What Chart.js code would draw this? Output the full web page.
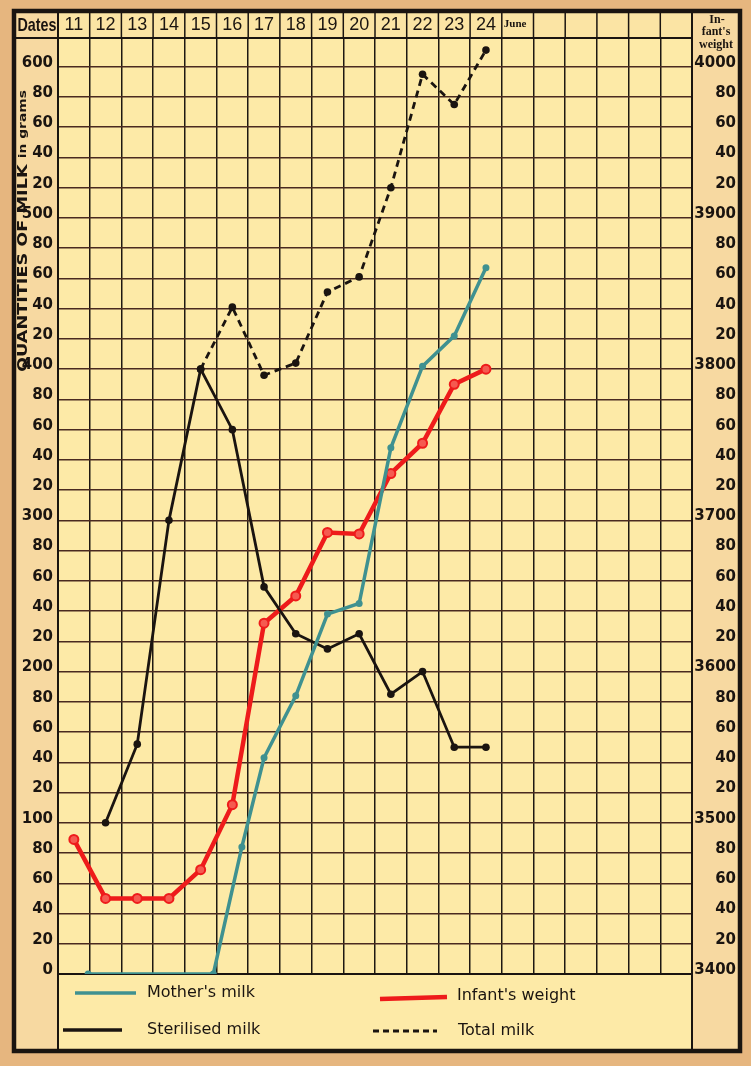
<!DOCTYPE html>
<html><head><meta charset="utf-8">
<script src="https://cdn.jsdelivr.net/npm/chart.js@4/dist/chart.umd.min.js"></script>
<style>html,body{margin:0;padding:0;background:#e6b67f;}canvas{display:block}</style>
</head><body>
<canvas id="c" width="751" height="1066"></canvas>
<script>
// ---- data ----
const dates = [11,12,13,14,15,16,17,18,19,20,21,22,23,24];
const dateLabels = ['11','12','13','14','15','16','17','18','19','20','21','22','23','24'];
const monthLabel = 'June';
const gridDays = [11,12,13,14,15,16,17,18,19,20,21,22,23,24,25,26,27,28,29,30];

const motherDays = [11.45,15.4,16.3,17,18,19,20,21,22,23,24];
const motherMilk = [0,0,84,143,184,238,245,348,402,422,467];
const sterilisedMilk = [null,100,152,300,400,360,256,225,215,225,185,200,150,150];
const totalMilk = [null,null,null,null,400,441,396,404,451,461,520,595,575,611];
const infantWeight = [3489,3450,3450,3450,3469,3512,3632,3650,3692,3691,3731,3751,3790,3800];

const milkTicks = [0,20,40,60,80,100,120,140,160,180,200,220,240,260,280,300,320,340,360,380,400,420,440,460,480,500,520,540,560,580,600];
const milkTickLabels = ['0','20','40','60','80','100','20','40','60','80','200','20','40','60','80','300','20','40','60','80','400','20','40','60','80','500','20','40','60','80','600'];
const weightTicks = [3400,3420,3440,3460,3480,3500,3520,3540,3560,3580,3600,3620,3640,3660,3680,3700,3720,3740,3760,3780,3800,3820,3840,3860,3880,3900,3920,3940,3960,3980,4000];
const weightTickLabels = ['3400','20','40','60','80','3500','20','40','60','80','3600','20','40','60','80','3700','20','40','60','80','3800','20','40','60','80','3900','20','40','60','80','4000'];

const legendLabels = ["Mother's milk", 'Sterilised milk', "Infant's weight", 'Total milk'];
const yTitle = 'QUANTITIES OF MILK';
const yTitleUnit = 'in grams';
const rightTitle = ['In-', "fant's", 'weight'];
const cornerLabel = 'Dates';

// ---- styling ----
const INK = '#1a1410';
const TEAL = '#3f9190';
const RED = '#ee1b1b';
const tickFont = {family: "'DejaVu Sans', sans-serif", size: 15, weight: 'bold'};
const headFont = {family: "'Liberation Sans Narrow', 'Liberation Sans', sans-serif", size: 18};

function pts(xs, ys){ return xs.map((x,i)=>({x, y: ys[i]})); }

function fitText(ctx, text, x, y, maxW, align){
  const w = ctx.measureText(text).width;
  const s = Math.min(1, maxW / w);
  ctx.save(); ctx.translate(x, y); ctx.scale(s, 1);
  ctx.textAlign = align; ctx.fillText(text, 0, 0); ctx.restore();
}
function line(ctx, x1, y1, x2, y2){ ctx.beginPath(); ctx.moveTo(x1,y1); ctx.lineTo(x2,y2); ctx.stroke(); }

const L = 14, T = 11, R = 740, B = 1051;

const framePlugin = {
  id: 'frame',
  beforeDraw(chart){
    const {ctx, chartArea: a, width, height} = chart;
    ctx.save();
    ctx.fillStyle = '#e6b67f'; ctx.fillRect(0, 0, width, height);
    ctx.fillStyle = '#f7d9a1'; ctx.fillRect(L, T, R - L, B - T);
    ctx.fillStyle = '#fbe4a4'; ctx.fillRect(a.left, T, a.right - a.left, a.top - T);
    ctx.fillStyle = '#fdeaa7'; ctx.fillRect(a.left, a.top, a.right - a.left, B - a.top);
    ctx.restore();
  },
  beforeDatasetsDraw(chart){
    const {ctx, chartArea: a} = chart;
    const xs = chart.scales.x;
    ctx.save();
    ctx.strokeStyle = INK;
    ctx.lineWidth = 1.5;
    for (let i = 0; i <= gridDays.length; i++) {
      const px = xs.getPixelForValue(gridDays[0] - 0.5 + i);
      line(ctx, px, T, px, a.top);
    }
    ctx.lineWidth = 2;
    line(ctx, L, a.top, a.right, a.top);
    line(ctx, a.left, a.bottom, a.right, a.bottom);
    line(ctx, a.left, T, a.left, B);
    line(ctx, a.right, T, a.right, B);
    ctx.restore();
  },
  afterDraw(chart){
    const {ctx, chartArea: a} = chart;
    const xs = chart.scales.x;
    ctx.save();
    ctx.strokeStyle = INK; ctx.fillStyle = INK;
    ctx.lineWidth = 4.5;
    ctx.strokeRect(L, T, R - L, B - T);

    // header texts
    ctx.textBaseline = 'middle';
    ctx.font = `bold 19px ${headFont.family}`;
    fitText(ctx, cornerLabel, (L + a.left) / 2 + 1, 26, 39, 'center');
    ctx.font = "bold 11px 'Liberation Serif', serif";
    ctx.textAlign = 'left';
    ctx.fillText(monthLabel, xs.getPixelForValue(24.5) + 2, 24);
    ctx.font = "bold 12px 'Liberation Serif', serif";
    ctx.textAlign = 'center';
    const rc = (a.right + R) / 2;
    ctx.fillText(rightTitle[0], rc + 1, 20);
    ctx.fillText(rightTitle[1], rc, 32);
    ctx.fillText(rightTitle[2], rc, 45);

    // rotated y title
    ctx.save();
    ctx.translate(23, 231); ctx.rotate(-Math.PI / 2);
    const f1 = "bold 14px 'DejaVu Sans', sans-serif", f2 = "bold 11px 'DejaVu Sans', sans-serif";
    ctx.font = f1; const w1 = ctx.measureText(yTitle + ' ').width;
    ctx.font = f2; const w2 = ctx.measureText(yTitleUnit).width;
    ctx.scale(282 / (w1 + w2), 1);
    ctx.textAlign = 'left'; ctx.textBaseline = 'middle';
    const x0 = -(w1 + w2) / 2;
    ctx.font = f1; ctx.fillText(yTitle + ' ', x0, 0);
    ctx.font = f2; ctx.fillText(yTitleUnit, x0 + w1, 0);
    ctx.restore();

    // legend
    ctx.lineCap = 'butt';
    ctx.lineWidth = 3.5; ctx.strokeStyle = TEAL; line(ctx, 75, 993, 136, 993);
    ctx.lineWidth = 3.5; ctx.strokeStyle = INK; line(ctx, 63, 1030, 122, 1030);
    ctx.lineWidth = 4.5; ctx.strokeStyle = RED; line(ctx, 380, 999, 447, 997);
    ctx.lineWidth = 3; ctx.strokeStyle = INK; ctx.setLineDash([6, 4]); line(ctx, 373, 1031, 437, 1031); ctx.setLineDash([]);
    ctx.fillStyle = INK; ctx.textBaseline = 'middle';
    ctx.font = "16px 'DejaVu Sans', sans-serif";
    fitText(ctx, legendLabels[0], 147, 993, 108, 'left');
    fitText(ctx, legendLabels[1], 147, 1030, 115, 'left');
    fitText(ctx, legendLabels[2], 457, 996, 120, 'left');
    fitText(ctx, legendLabels[3], 458, 1031, 82, 'left');
    ctx.restore();
  }
};

new Chart(document.getElementById('c'), {
  type: 'line',
  data: {
    datasets: [
      {label: legendLabels[0], data: pts(motherDays, motherMilk), yAxisID: 'y',
       borderColor: TEAL, backgroundColor: TEAL, borderWidth: 3.5, pointRadius: 3.5, pointBackgroundColor: TEAL, pointBorderWidth: 0},
      {label: legendLabels[1], data: pts(dates, sterilisedMilk), yAxisID: 'y',
       borderColor: INK, backgroundColor: INK, borderWidth: 2.8, pointRadius: 3.8, pointBackgroundColor: INK, pointBorderWidth: 0},
      {label: legendLabels[2], data: pts(dates, infantWeight), yAxisID: 'y1',
       borderColor: RED, backgroundColor: RED, borderWidth: 4.5, pointRadius: 4.5, pointBackgroundColor: '#f55a50', pointBorderColor: RED, pointBorderWidth: 2},
      {label: legendLabels[3], data: pts(dates, totalMilk), yAxisID: 'y',
       borderColor: INK, backgroundColor: INK, borderWidth: 2.8, borderDash: [7, 5], pointRadius: 3.8, pointBackgroundColor: INK, pointBorderWidth: 0}
    ]
  },
  options: {
    responsive: false, devicePixelRatio: 1, animation: false,
    layout: {padding: {left: 15, right: 15, top: 12, bottom: 92}},
    plugins: {legend: {display: false}, tooltip: {enabled: false}},
    elements: {line: {tension: 0}},
    scales: {
      x: {
        type: 'linear', position: 'top', min: 10.5, max: 30.5,
        afterBuildTicks: s => { s.ticks = gridDays.map(v => ({value: v})); },
        afterFit: s => { s.height = 26; },
        grid: {offset: true, color: '#1e1812', lineWidth: 1.5, drawTicks: false},
        border: {display: false},
        ticks: {autoSkip: false, maxRotation: 0, padding: 2, color: INK, font: headFont,
                callback: (v, i) => dateLabels[i] !== undefined ? dateLabels[i] : ''}
      },
      y: {
        type: 'linear', position: 'left', min: 0, max: 619,
        afterBuildTicks: s => { s.ticks = milkTicks.map(v => ({value: v})); },
        afterFit: s => { s.width = 43; },
        grid: {color: '#4a2a20', lineWidth: 1.5, drawTicks: false},
        border: {display: false},
        ticks: {autoSkip: false, padding: 5, labelOffset: -4, color: INK, font: tickFont,
                callback: (v, i) => milkTickLabels[i]}
      },
      y1: {
        type: 'linear', position: 'right', min: 3400, max: 4019,
        afterBuildTicks: s => { s.ticks = weightTicks.map(v => ({value: v})); },
        afterFit: s => { s.width = 44; },
        grid: {display: false, drawTicks: false},
        border: {display: false},
        ticks: {autoSkip: false, padding: 6, labelOffset: -4, crossAlign: 'far', color: INK, font: tickFont,
                callback: (v, i) => weightTickLabels[i]}
      }
    }
  },
  plugins: [framePlugin]
});
</script>
</body></html>
